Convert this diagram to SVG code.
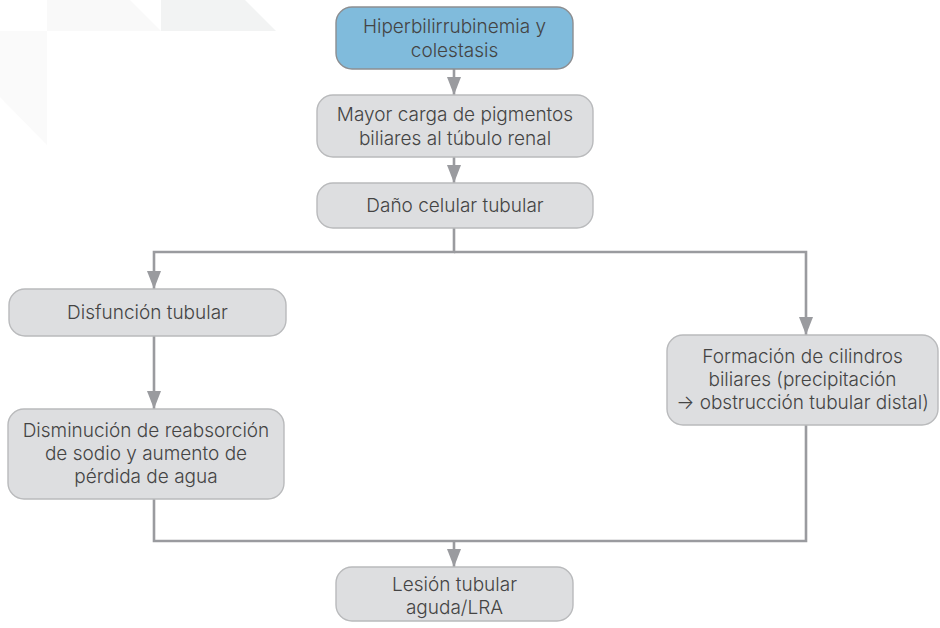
<svg xmlns="http://www.w3.org/2000/svg" width="940" height="628" viewBox="0 0 940 628">
  <defs>
    <marker id="arrow" markerWidth="18" markerHeight="14" refX="18" refY="7" orient="auto" markerUnits="userSpaceOnUse" viewBox="0 0 18 14">
      <path d="M0,0 L18,7 L0,14 Z" fill="#9a9b9f"/>
    </marker>
    <style>
      .box { fill: #dddee0; stroke: #b9babc; stroke-width: 1.4; }
      .box.start { fill: #80bbdc; stroke: #8c8e91; }
      .lbl { font-family: Inter, "Open Sans", sans-serif; font-weight: 300; font-size: 19px; fill: #444444; text-anchor: middle; }
      .wire { fill: none; stroke: #9a9b9f; stroke-width: 2.6; }
    </style>
  </defs>

  <rect width="940" height="628" fill="#ffffff"/>

  <!-- faint decorative corner shapes -->
  <g id="backdrop">
    <polygon points="47,0 130,0 161,31 47,31" fill="#f9f9f9"/>
    <polygon points="161,0 245,0 276,31 161,31" fill="#f2f3f3"/>
    <polygon points="0,31 47,31 47,145 0,97" fill="#fafafa"/>
  </g>

  <!-- connectors -->
  <g id="connectors">
    <line class="wire" x1="454" y1="69" x2="454" y2="95" marker-end="url(#arrow)"/>
    <line class="wire" x1="454" y1="157" x2="454" y2="183" marker-end="url(#arrow)"/>
    <polyline class="wire" points="454,228 454,252 154,252 154,289" marker-end="url(#arrow)"/>
    <polyline class="wire" points="454,252 806,252 806,335" marker-end="url(#arrow)"/>
    <line class="wire" x1="154" y1="336" x2="154" y2="409" marker-end="url(#arrow)"/>
    <polyline class="wire" points="154,499 154,541 806,541 806,425"/>
    <line class="wire" x1="454" y1="541" x2="454" y2="567" marker-end="url(#arrow)"/>
  </g>

  <g id="n-hiperbilirrubinemia">
    <rect class="box start" x="336" y="7" width="237" height="62" rx="16"/>
    <text class="lbl" x="454.5" y="33">Hiperbilirrubinemia y</text>
    <text class="lbl" x="454.5" y="57">colestasis</text>
  </g>

  <g id="n-mayor-carga">
    <rect class="box" x="317" y="95" width="276" height="62" rx="16"/>
    <text class="lbl" x="455" y="121">Mayor carga de pigmentos</text>
    <text class="lbl" x="455" y="145">biliares al túbulo renal</text>
  </g>

  <g id="n-dano-celular">
    <rect class="box" x="317" y="183" width="276" height="45" rx="16"/>
    <text class="lbl" x="455" y="212">Daño celular tubular</text>
  </g>

  <g id="n-disfuncion">
    <rect class="box" x="9" y="289" width="277" height="47" rx="16"/>
    <text class="lbl" x="147.5" y="319">Disfunción tubular</text>
  </g>

  <g id="n-disminucion">
    <rect class="box" x="8" y="409" width="276" height="90" rx="16"/>
    <text class="lbl" x="146" y="437">Disminución de reabsorción</text>
    <text class="lbl" x="146" y="460">de sodio y aumento de</text>
    <text class="lbl" x="146" y="483">pérdida de agua</text>
  </g>

  <g id="n-formacion">
    <rect class="box" x="667" y="335" width="271" height="90" rx="16"/>
    <text class="lbl" x="802.5" y="363">Formación de cilindros</text>
    <text class="lbl" x="802.5" y="386">biliares (precipitación</text>
    <text class="lbl" x="802.5" y="409">→ obstrucción tubular distal)</text>
  </g>

  <g id="n-lesion">
    <rect class="box" x="336" y="567" width="237" height="54" rx="16"/>
    <text class="lbl" x="454.5" y="591">Lesión tubular</text>
    <text class="lbl" x="454.5" y="614">aguda/LRA</text>
  </g>
</svg>
